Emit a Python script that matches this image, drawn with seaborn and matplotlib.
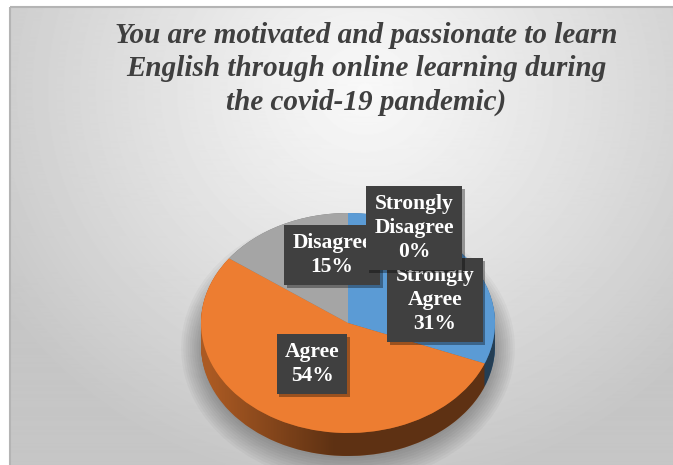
import numpy as np
import matplotlib
matplotlib.use("Agg")
import matplotlib.pyplot as plt
import matplotlib.patheffects as pe
from matplotlib.patches import Ellipse, PathPatch, Rectangle
from matplotlib.path import Path
import seaborn as sns

# survey answers, clockwise from 12 o'clock
categories = ["Strongly Agree", "Agree", "Disagree", "Strongly Disagree"]
shares = [31, 54, 15, 0]
title = ("You are motivated and passionate to learn\n"
         "English through online learning during\n"
         "the covid-19 pandemic)")

# Excel office colours
top_colors = sns.color_palette(["#5B9BD5", "#ED7D31", "#A5A5A5", "#FFC000"])
side_colors = [tuple(c * 0.72 for c in col) for col in top_colors]

W, H = 673, 465
# pie ellipse in pixels (centre, radii, thickness)
CX, CY, RX, RY, DEPTH = 348, 323, 147, 110, 23
d = DEPTH / RY

# label box centres in pixels; Strongly Disagree is drawn last, on top
LABEL_XY = {
    "Disagree": (332, 255),
    "Strongly Agree": (435, 300),
    "Agree": (312, 364),
    "Strongly Disagree": (414, 228),
}
SERIF = ["Liberation Serif", "DejaVu Serif"]

sns.set_theme(style="white")
fig = plt.figure(figsize=(W / 100, H / 100), dpi=100)
fig.patch.set_facecolor("white")

# background panel, radial grey gradient (runs off the right and bottom)
bg = fig.add_axes([0, 0, 1, 1])
bg.axis("off")
yy, xx = np.mgrid[7:H + 10, 10:W + 10]
r = np.sqrt(((xx - 365) / 430.0) ** 2 + ((yy - 90) / 400.0) ** 2)
shade = 0.975 - 0.20 * np.clip(r, 0, 1) ** 1.1
bg.imshow(shade, cmap="gray", vmin=0, vmax=1, extent=(10, W + 10, H + 10, 7),
          aspect="auto", zorder=0)
bg.add_patch(Rectangle((10, 7), W + 20, H + 20, facecolor="none",
                       edgecolor="#b4b4b4", lw=1.5, zorder=1, clip_on=False))
bg.set_xlim(0, W)
bg.set_ylim(H, 0)
bg.text(366, 69, title, ha="center", va="center", fontsize=21,
        fontweight="bold", fontstyle="italic", color="#3f3f3f",
        family=SERIF, linespacing=1.3)

# pie axes, squashed to an ellipse
pax = fig.add_axes([(CX - RX) / W, (H - CY - RY - DEPTH) / H,
                    2 * RX / W, (2 * RY + DEPTH) / H])

# soft shadow under the pie
for i in range(10):
    pax.add_patch(Ellipse((0, -d - 0.02), 2 + 0.03 * i, 2 + 0.05 * i,
                          color="black", alpha=0.03, lw=0, zorder=0,
                          clip_on=False))

# side of the pie: stacked copies moved down
for off in np.linspace(d, 0, 24):
    pax.pie(shares, colors=side_colors, startangle=90, counterclock=False,
            center=(0, -off), wedgeprops=dict(linewidth=0, zorder=1))

# dark shading across the side
t = np.linspace(np.pi, 2 * np.pi, 120)
verts = np.concatenate([np.c_[np.cos(t), np.sin(t)],
                        np.c_[np.cos(t[::-1]), np.sin(t[::-1]) - d]])
side = PathPatch(Path(verts), facecolor="none", edgecolor="none")
pax.add_patch(side)
gx = np.linspace(-1, 1, 200)
grad = np.zeros((1, 200, 4))
grad[..., 3] = np.clip((gx + 0.95) / 0.85, 0, 1) * 0.45
im = pax.imshow(grad, extent=(-1, 1, -1 - d, 1), aspect="auto", zorder=2,
                interpolation="bilinear")
im.set_clip_path(side)

# top face
pax.pie(shares, colors=top_colors, startangle=90, counterclock=False,
        wedgeprops=dict(linewidth=0, zorder=3))
pax.set_aspect("auto")
pax.set_xlim(-1, 1)
pax.set_ylim(-1 - d, 1)
pax.axis("off")

# data labels
ov = fig.add_axes([0, 0, 1, 1])
ov.axis("off")
ov.set_xlim(0, W)
ov.set_ylim(H, 0)
for z, cat in enumerate(LABEL_XY):
    share = shares[categories.index(cat)]
    x, y = LABEL_XY[cat]
    txt = ov.text(x, y, cat.replace(" ", "\n") + f"\n{share}%", ha="center",
                  va="center", fontsize=15.5, fontweight="bold", color="white",
                  family=SERIF, linespacing=1.25, zorder=5 + z,
                  bbox=dict(boxstyle="square,pad=0.38", fc="#404040", ec="none"))
    txt.get_bbox_patch().set_path_effects([
        pe.SimplePatchShadow(offset=(2, -2), shadow_rgbFace="black", alpha=0.35),
        pe.Normal()])

fig.savefig("out.png", dpi=100)
